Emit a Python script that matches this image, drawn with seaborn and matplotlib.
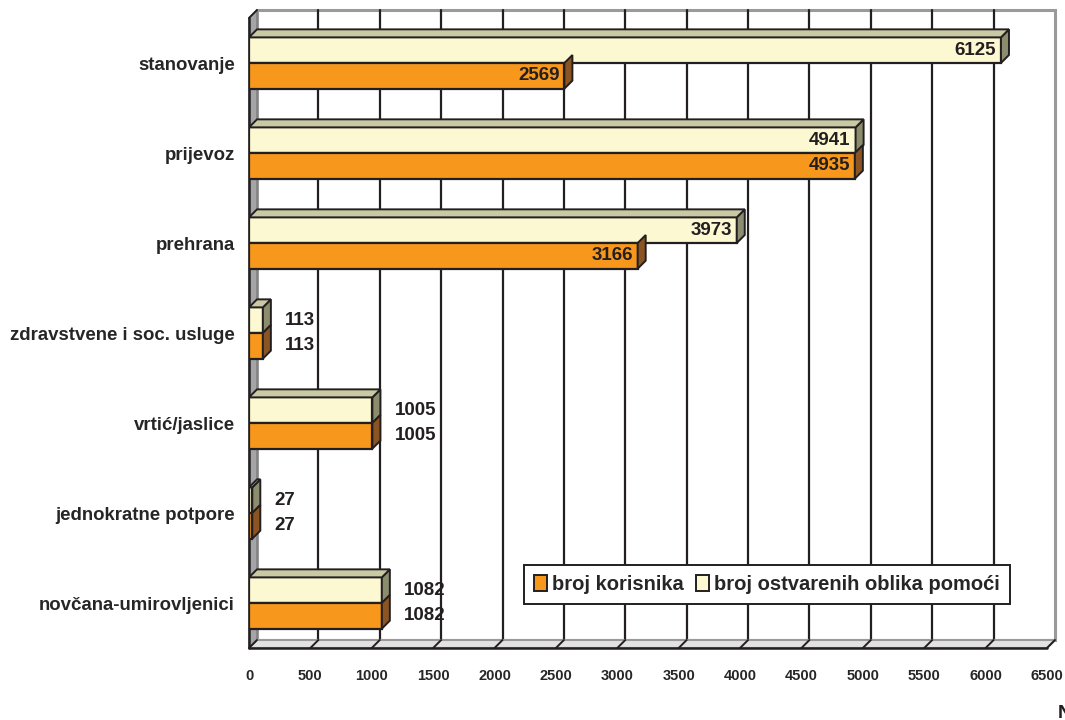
import pandas as pd
import matplotlib.pyplot as plt
import seaborn as sns
from matplotlib.patches import Polygon, Patch

# -------------------------
# Data
# -------------------------
categories = ["stanovanje", "prijevoz", "prehrana", "zdravstvene i soc. usluge",
              "vrtić/jaslice", "jednokratne potpore", "novčana-umirovljenici"]
broj_korisnika = [2569, 4935, 3166, 113, 1005, 27, 1082]
broj_oblika = [6125, 4941, 3973, 113, 1005, 27, 1082]
series_names = ["broj korisnika", "broj ostvarenih oblika pomoći"]
x_ticks = list(range(0, 6501, 500))

df = pd.DataFrame({
    "kategorija": categories * 2,
    "vrijednost": broj_korisnika + broj_oblika,
    "serija": [series_names[0]] * len(categories) + [series_names[1]] * len(categories),
})

# -------------------------
# Style
# -------------------------
sns.set_style("white")
plt.rcParams["font.family"] = ["Liberation Sans", "DejaVu Sans"]
plt.rcParams["font.weight"] = "bold"

ORANGE = "#F7981D"
CREAM = "#FCF8D2"
ORANGE_SIDE = "#8A5522"
CREAM_SIDE = "#8C8C6E"
CREAM_TOP = "#C9C9A3"
EDGE = "#231F20"
palette = {series_names[0]: ORANGE, series_names[1]: CREAM}

fig = plt.figure(figsize=(10.65, 7.2), dpi=100)
ax = fig.add_axes([249 / 1065, 72 / 720, 798 / 1065, 630 / 720])

hue_order = [series_names[1], series_names[0]]
sns.barplot(data=df, y="kategorija", x="vrijednost", hue="serija",
            hue_order=hue_order, order=categories, orient="h", width=0.57,
            palette=palette, saturation=1, edgecolor=EDGE, linewidth=1.6,
            legend=False, ax=ax, zorder=5)
bars = list(ax.patches)

xmax = 6500
ax.set_xlim(0, xmax)
ax.set_ylim(len(categories) - 0.5, -0.5)
ymax, ymin = len(categories) - 0.5, -0.5

# 3D depth in data units (8 px right, 8 px up)
dx = 8 * xmax / ax.bbox.width
dy = 8 * len(categories) / ax.bbox.height
px = xmax / ax.bbox.width

# -------------------------
# Back wall, left wall and floor
# -------------------------
ax.add_patch(Polygon([(dx, ymin - dy), (xmax + dx, ymin - dy), (xmax + dx, ymax - dy), (dx, ymax - dy)],
                     closed=True, facecolor="white", edgecolor="#9A9A9A", lw=2.2,
                     clip_on=False, zorder=0))
for v in x_ticks[1:-1]:
    ax.plot([v + dx, v + dx], [ymin - dy, ymax - dy], color=EDGE, lw=1.6,
            clip_on=False, zorder=1)
ax.add_patch(Polygon([(0, ymin), (dx, ymin - dy), (dx, ymax - dy), (0, ymax)],
                     closed=True, facecolor="#A5A5A8", edgecolor="#7A7A7A", lw=1,
                     clip_on=False, zorder=2))
ax.add_patch(Polygon([(0, ymax), (dx, ymax - dy), (xmax + dx, ymax - dy), (xmax, ymax)],
                     closed=True, facecolor="#E2E2E2", edgecolor="#9A9A9A", lw=1.5,
                     clip_on=False, zorder=2))
for v in x_ticks:
    ax.plot([v, v + dx], [ymax, ymax - dy], color=EDGE, lw=1.4, clip_on=False, zorder=3)
ax.plot([0, 0], [ymin, ymax], color=EDGE, lw=1.8, clip_on=False, zorder=4)
ax.plot([0, dx], [ymin, ymin - dy], color=EDGE, lw=1.4, clip_on=False, zorder=4)
ax.plot([0, xmax], [ymax, ymax], color=EDGE, lw=1.8, clip_on=False, zorder=4)

# -------------------------
# Bar 3D faces and labels
# -------------------------
n = len(categories)
for i, p in enumerate(bars):
    w = p.get_width()
    y0 = p.get_y()
    h = p.get_height()
    is_cream = i < n
    side = CREAM_SIDE if is_cream else ORANGE_SIDE
    ax.add_patch(Polygon([(w, y0), (w + dx, y0 - dy), (w + dx, y0 + h - dy), (w, y0 + h)],
                         closed=True, facecolor=side, edgecolor=EDGE, lw=1.4, zorder=6))
    if is_cream:
        ax.add_patch(Polygon([(0, y0), (dx, y0 - dy), (w + dx, y0 - dy), (w, y0)],
                             closed=True, facecolor=CREAM_TOP, edgecolor=EDGE, lw=1.4, zorder=6))
    label = f"{int(round(w))}"
    yc = y0 + h / 2
    if w > 2000:
        ax.text(w - 5 * px, yc, label, ha="right", va="center",
                fontsize=13.5, fontweight="bold", color=EDGE, zorder=7)
    else:
        ax.text(w + 22 * px, yc, label, ha="left", va="center",
                fontsize=13.5, fontweight="bold", color=EDGE, zorder=7)

# -------------------------
# Axes ticks and labels
# -------------------------
for s in ax.spines.values():
    s.set_visible(False)
ax.set_xlabel("")
ax.set_ylabel("")
ax.set_xticks(x_ticks)
ax.set_xticklabels([str(v) for v in x_ticks], fontsize=10.5, fontweight="bold")
ax.tick_params(axis="x", length=11, width=1.6, color=EDGE, pad=4)
ax.set_yticks(range(n))
ax.set_yticklabels(categories, fontsize=13.4, fontweight="bold")
ax.tick_params(axis="y", which="major", length=0, pad=10)
ax.set_yticks([i - 0.5 for i in range(n + 1)], minor=True)
ax.tick_params(axis="y", which="minor", length=11, width=1.6, color=EDGE)
ax.grid(False)

# -------------------------
# Legend
# -------------------------
handles = [Patch(facecolor=ORANGE, edgecolor=EDGE, lw=1.4),
           Patch(facecolor=CREAM, edgecolor=EDGE, lw=1.4)]
leg = ax.legend(handles, series_names, loc="lower left",
                bbox_to_anchor=(275 / 798, 44 / 630), ncol=2, frameon=True,
                fancybox=False, framealpha=1, edgecolor=EDGE, handlelength=0.65,
                handleheight=0.85, handletextpad=0.25, columnspacing=0.6,
                borderpad=0.5, borderaxespad=0, prop={"size": 14.5, "weight": "bold"})
leg.get_frame().set_linewidth(1.4)
leg.set_zorder(8)

fig.text(1058 / 1065, 1 - 705 / 720, "N", ha="left", va="top",
         fontsize=14, fontweight="bold", color=EDGE)

plt.savefig("out.png", dpi=100)
plt.close()
